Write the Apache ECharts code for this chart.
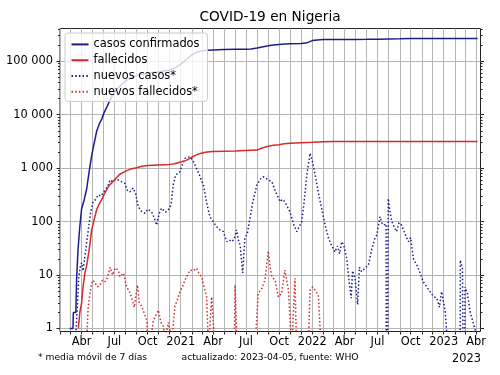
<!DOCTYPE html>
<html>
<head>
<meta charset="utf-8">
<script src="https://cdn.jsdelivr.net/npm/echarts@6/dist/echarts.min.js"></script>
<style>
  html, body { margin: 0; padding: 0; background: #fff; }
  #main { width: 500px; height: 375px; }
</style>
</head>
<body>
<div id="main"></div>
<script>
// datos (fecha, valor); 0 = sin casos
const casosConfirmados = [
  ["2020-02-28", 1], ["2020-03-08", 1], ["2020-03-09", 2], ["2020-03-16", 2], ["2020-03-18", 8],
  ["2020-03-22", 30], ["2020-03-27", 81], ["2020-04-01", 174], ["2020-04-08", 254], ["2020-04-15", 407],
  ["2020-04-22", 873], ["2020-04-29", 1728], ["2020-05-06", 2950], ["2020-05-13", 4971], ["2020-05-20", 6677],
  ["2020-05-27", 8344], ["2020-06-03", 11166], ["2020-06-10", 13873], ["2020-06-17", 17735], ["2020-06-24", 22020],
  ["2020-07-01", 25694], ["2020-07-15", 33616], ["2020-08-01", 43151], ["2020-08-15", 48116], ["2020-09-01", 54008],
  ["2020-09-15", 56256], ["2020-10-01", 58848], ["2020-10-15", 61194], ["2020-11-01", 63036], ["2020-11-15", 65305],
  ["2020-12-01", 67960], ["2020-12-15", 74132], ["2021-01-01", 87510], ["2021-01-15", 105478], ["2021-02-01", 131242],
  ["2021-02-15", 147454], ["2021-03-01", 156017], ["2021-03-15", 160463], ["2021-04-01", 162641], ["2021-05-01", 165110],
  ["2021-06-01", 166682], ["2021-07-01", 167861], ["2021-07-15", 170000], ["2021-08-01", 176000], ["2021-08-15", 185000],
  ["2021-09-01", 194000], ["2021-09-15", 200000], ["2021-10-01", 205000], ["2021-10-15", 208800], ["2021-11-01", 212000],
  ["2021-12-01", 214200], ["2021-12-15", 218000], ["2022-01-01", 243000], ["2022-01-15", 250000], ["2022-02-01", 253600],
  ["2022-03-01", 254800], ["2022-04-01", 255500], ["2022-05-01", 256000], ["2022-06-01", 256700], ["2022-07-01", 257900],
  ["2022-08-01", 261300], ["2022-09-01", 263000], ["2022-10-01", 265300], ["2022-11-01", 265900], ["2022-12-01", 266300],
  ["2023-01-01", 266450], ["2023-02-01", 266500], ["2023-03-01", 266600], ["2023-04-05", 266675]
];

const fallecidos = [
  ["2020-03-23", 1], ["2020-03-27", 2], ["2020-04-01", 3], ["2020-04-05", 6], ["2020-04-10", 11],
  ["2020-04-15", 15], ["2020-04-22", 30], ["2020-04-29", 70], ["2020-05-06", 110], ["2020-05-13", 170],
  ["2020-05-20", 215], ["2020-05-27", 260], ["2020-06-03", 330], ["2020-06-10", 400], ["2020-06-17", 480],
  ["2020-06-24", 530], ["2020-07-01", 600], ["2020-07-15", 760], ["2020-08-01", 880], ["2020-08-15", 960],
  ["2020-09-01", 1020], ["2020-09-15", 1085], ["2020-10-01", 1115], ["2020-11-01", 1150], ["2020-12-01", 1175],
  ["2020-12-15", 1205], ["2021-01-01", 1300], ["2021-01-15", 1380], ["2021-02-01", 1600], ["2021-02-15", 1790],
  ["2021-03-01", 1920], ["2021-03-15", 2010], ["2021-04-01", 2050], ["2021-05-01", 2065], ["2021-06-01", 2080],
  ["2021-07-01", 2125], ["2021-08-01", 2175], ["2021-08-15", 2380], ["2021-09-01", 2560], ["2021-09-15", 2680],
  ["2021-10-01", 2740], ["2021-10-15", 2860], ["2021-11-01", 2910], ["2021-12-01", 2980], ["2022-01-01", 3035],
  ["2022-02-01", 3125], ["2022-03-01", 3142], ["2022-06-01", 3144], ["2022-09-01", 3155], ["2023-04-05", 3155]
];

// media móvil de 7 días
const nuevosCasos = [
  ["2020-02-28", 0.14], ["2020-03-10", 0.3], ["2020-03-17", 1], ["2020-03-24", 9], ["2020-03-28", 14],
  ["2020-04-01", 17], ["2020-04-05", 12], ["2020-04-10", 13], ["2020-04-19", 65], ["2020-04-26", 150],
  ["2020-05-03", 235], ["2020-05-10", 260], ["2020-05-17", 315], ["2020-05-25", 300], ["2020-06-05", 390],
  ["2020-06-12", 450], ["2020-06-19", 600], ["2020-06-26", 560], ["2020-07-05", 620], ["2020-07-12", 600],
  ["2020-07-20", 560], ["2020-07-30", 520], ["2020-08-06", 380], ["2020-08-13", 360], ["2020-08-22", 425],
  ["2020-08-29", 330], ["2020-09-05", 190], ["2020-09-12", 160], ["2020-09-24", 142], ["2020-10-02", 170],
  ["2020-10-12", 153], ["2020-10-19", 120], ["2020-10-26", 86], ["2020-11-02", 140], ["2020-11-09", 178],
  ["2020-11-20", 150], ["2020-12-02", 178], ["2020-12-06", 230], ["2020-12-11", 480], ["2020-12-18", 745],
  ["2020-12-30", 855], ["2021-01-06", 1200], ["2021-01-13", 1520], ["2021-01-20", 1600], ["2021-01-27", 1630],
  ["2021-02-03", 1400], ["2021-02-10", 1140], ["2021-02-20", 800], ["2021-03-05", 480], ["2021-03-15", 210],
  ["2021-03-23", 123], ["2021-04-01", 100], ["2021-04-11", 80], ["2021-04-20", 70], ["2021-04-29", 65],
  ["2021-05-09", 42], ["2021-05-16", 45], ["2021-05-23", 42], ["2021-05-30", 48], ["2021-06-05", 70],
  ["2021-06-10", 45], ["2021-06-15", 36], ["2021-06-22", 11], ["2021-06-28", 49], ["2021-07-05", 60],
  ["2021-07-12", 115], ["2021-07-20", 230], ["2021-07-31", 480], ["2021-08-10", 620], ["2021-08-18", 690],
  ["2021-08-25", 650], ["2021-09-01", 600], ["2021-09-11", 560], ["2021-09-20", 380], ["2021-10-04", 235],
  ["2021-10-10", 260], ["2021-10-17", 235], ["2021-10-24", 190], ["2021-10-31", 153], ["2021-11-10", 90],
  ["2021-11-19", 65], ["2021-11-26", 80], ["2021-12-03", 100], ["2021-12-10", 250], ["2021-12-17", 745],
  ["2021-12-26", 1900], ["2022-01-02", 1300], ["2022-01-09", 745], ["2022-01-18", 350], ["2022-01-27", 178],
  ["2022-02-05", 90], ["2022-02-15", 49], ["2022-02-22", 38], ["2022-03-05", 27], ["2022-03-12", 35],
  ["2022-03-18", 25], ["2022-03-24", 42], ["2022-03-30", 35], ["2022-04-07", 20], ["2022-04-13", 8],
  ["2022-04-19", 3.7], ["2022-04-23", 12], ["2022-04-30", 8.7], ["2022-05-07", 2.8], ["2022-05-12", 14],
  ["2022-05-18", 11.6], ["2022-05-25", 13], ["2022-06-06", 15.5], ["2022-06-15", 30], ["2022-06-24", 49],
  ["2022-06-29", 56], ["2022-07-08", 123], ["2022-07-13", 95], ["2022-07-17", 86], ["2022-07-25", 90],
  ["2022-07-26", 0], ["2022-07-30", 0], ["2022-07-31", 270], ["2022-08-05", 150], ["2022-08-10", 100],
  ["2022-08-16", 80], ["2022-08-23", 65], ["2022-08-30", 95], ["2022-09-06", 86], ["2022-09-15", 60],
  ["2022-09-25", 42], ["2022-10-01", 50], ["2022-10-09", 20], ["2022-10-18", 15.5], ["2022-10-25", 12],
  ["2022-11-05", 7.5], ["2022-11-15", 6], ["2022-11-24", 4.9], ["2022-12-03", 4], ["2022-12-13", 3.7],
  ["2022-12-20", 2.5], ["2022-12-26", 4.9], ["2023-01-05", 2.1], ["2023-01-14", 0.3], ["2023-02-15", 0],
  ["2023-02-16", 19], ["2023-02-22", 13], ["2023-02-27", 0], ["2023-03-01", 6], ["2023-03-08", 4.4],
  ["2023-03-15", 2.1], ["2023-04-01", 0.8]
];

const nuevosFallecidos = [
  ["2020-03-23", 0.14], ["2020-04-14", 0.4], ["2020-04-19", 2.4], ["2020-04-25", 5], ["2020-04-29", 7],
  ["2020-05-03", 8], ["2020-05-08", 7.5], ["2020-05-15", 6], ["2020-05-22", 6.5], ["2020-05-29", 8],
  ["2020-06-05", 7.5], ["2020-06-12", 9], ["2020-06-19", 14], ["2020-06-26", 10], ["2020-07-03", 13.5],
  ["2020-07-12", 12.4], ["2020-07-16", 9.3], ["2020-07-26", 10.8], ["2020-08-04", 6], ["2020-08-11", 5],
  ["2020-08-18", 3.8], ["2020-08-25", 2.5], ["2020-09-03", 6.5], ["2020-09-08", 3], ["2020-09-15", 2.6],
  ["2020-09-29", 1.4], ["2020-10-02", 0.4], ["2020-10-12", 0.8], ["2020-10-17", 1.4], ["2020-10-22", 1.5],
  ["2020-10-31", 2.2], ["2020-11-07", 1.3], ["2020-11-14", 1.1], ["2020-11-18", 0.6], ["2020-11-28", 1.3],
  ["2020-12-07", 0.6], ["2020-12-16", 2.6], ["2020-12-23", 3.5], ["2020-12-30", 4.9], ["2021-01-06", 6],
  ["2021-01-13", 8.1], ["2021-01-20", 10], ["2021-01-27", 12.4], ["2021-02-05", 12], ["2021-02-14", 13.4],
  ["2021-02-20", 11], ["2021-02-28", 9.3], ["2021-03-07", 6], ["2021-03-14", 3.9], ["2021-03-19", 0.4],
  ["2021-03-28", 3.9], ["2021-04-06", 0.4], ["2021-05-29", 0.3], ["2021-06-01", 6.5], ["2021-06-07", 0.3],
  ["2021-07-26", 0.4], ["2021-08-04", 4.5], ["2021-08-14", 5.6], ["2021-08-23", 8.1], ["2021-09-01", 28],
  ["2021-09-06", 14], ["2021-09-11", 9.3], ["2021-09-20", 8], ["2021-09-29", 3.9], ["2021-10-08", 4.5],
  ["2021-10-17", 12.4], ["2021-10-27", 5.2], ["2021-11-05", 0.4], ["2021-11-14", 8.7], ["2021-11-19", 0.3],
  ["2021-12-20", 0.3], ["2021-12-26", 5.2], ["2022-01-02", 6], ["2022-01-09", 5.2], ["2022-01-18", 4.2],
  ["2022-01-27", 0.3], ["2023-04-01", 0]
];

const yTicks = [1, 10, 100, 1000, 10000, 100000];
const etiquetasMes = { 3: "Abr", 6: "Jul", 9: "Oct" };

const azul = "#1c1c8c";
const rojo = "#d62b2b";
const fuente = "DejaVu Sans";

// fechas -> milisegundos (UTC); en escala log los ceros se mandan muy abajo y se recortan, como en matplotlib
const prep = (arr) => arr.map(([d, v]) => [Date.parse(d), v > 0 ? v : 1e-4]);

// marcas mensuales del eje x
const xMin = Date.UTC(2020, 1, 1);
const xMax = Date.UTC(2023, 3, 13);
const meses = [];
const trimestres = [];
for (let y = 2020; y <= 2023; y++) {
  for (let m = 0; m < 12; m++) {
    const t = Date.UTC(y, m, 1);
    if (t < xMin || t > xMax) continue;
    meses.push(t);
    if (m % 3 === 0) trimestres.push(t);
  }
}

// marcas menores del eje y
const yMin = 0.879;
const yMax = 409000;
const yMinor = [];
yTicks.forEach((d) => {
  for (let k = 2; k <= 9; k++) if (k * d < yMax) yMinor.push(k * d);
});

const fmtMiles = (v) => String(Math.round(v)).replace(/\B(?=(\d{3})+(?!\d))/g, " ");
const fmtFecha = (v) => {
  const d = new Date(v);
  return d.getUTCMonth() === 0 ? String(d.getUTCFullYear()) : etiquetasMes[d.getUTCMonth()] || "";
};

const myChart = echarts.init(document.getElementById("main"), null, { renderer: "canvas" });

const option = {
  animation: false,
  textStyle: { fontFamily: fuente },
  grid: {
    left: 60, top: 28.5, width: 420.5, height: 303,
    show: true, borderColor: "#222", borderWidth: 1, backgroundColor: "transparent"
  },
  legend: {
    orient: "vertical",
    left: 65, top: 33,
    itemWidth: 17, itemHeight: 14, itemGap: 4.6,
    padding: [5.8, 8, 4, 5.5],
    backgroundColor: "rgba(255,255,255,0.8)",
    borderColor: "#cccccc", borderWidth: 1, borderRadius: 3,
    itemStyle: { opacity: 0 },
    textStyle: { fontSize: 11.4, color: "#000", fontFamily: fuente },
    data: ["casos confirmados", "fallecidos", "nuevos casos*", "nuevos fallecidos*"]
  },
  xAxis: {
    type: "value",
    min: xMin, max: xMax,
    axisLine: { show: false },
    axisTick: { show: true, length: 3, customValues: meses, lineStyle: { color: "#222" } },
    axisLabel: { customValues: trimestres, margin: 5, fontSize: 11.4, color: "#000", fontFamily: fuente, formatter: fmtFecha },
    splitLine: { show: true, lineStyle: { color: "#b5b5b5", width: 1 } }
  },
  yAxis: [
    {
      type: "log", logBase: 10, min: yMin, max: yMax, position: "left",
      axisLine: { show: false },
      axisTick: { show: true, length: 3.5, customValues: yTicks, lineStyle: { color: "#222" } },
      axisLabel: { customValues: yTicks, margin: 7, fontSize: 11.4, color: "#000", fontFamily: fuente, formatter: fmtMiles },
      splitLine: { show: true, lineStyle: { color: "#b5b5b5", width: 1 } }
    },
    {
      type: "log", logBase: 10, min: yMin, max: yMax, position: "left",
      axisLine: { show: false },
      axisTick: { show: true, length: 2, customValues: yMinor, lineStyle: { color: "#222" } },
      axisLabel: { show: false },
      splitLine: { show: false }
    },
    {
      type: "log", logBase: 10, min: yMin, max: yMax, position: "right",
      axisLine: { show: false },
      axisTick: { show: true, length: 3.5, customValues: yTicks, lineStyle: { color: "#222" } },
      axisLabel: { show: false },
      splitLine: { show: false }
    },
    {
      type: "log", logBase: 10, min: yMin, max: yMax, position: "right",
      axisLine: { show: false },
      axisTick: { show: true, length: 2, customValues: yMinor, lineStyle: { color: "#222" } },
      axisLabel: { show: false },
      splitLine: { show: false }
    }
  ],
  series: [
    {
      name: "casos confirmados", type: "line", symbol: "none", data: prep(casosConfirmados),
      lineStyle: { color: azul, width: 1.5 }, itemStyle: { color: azul }, z: 3
    },
    {
      name: "fallecidos", type: "line", symbol: "none", data: prep(fallecidos),
      lineStyle: { color: rojo, width: 1.5 }, itemStyle: { color: rojo }, z: 3
    },
    {
      name: "nuevos casos*", type: "line", symbol: "none", data: prep(nuevosCasos),
      lineStyle: { color: azul, width: 1.5, type: [1.5, 2.2] }, itemStyle: { color: azul }, z: 2
    },
    {
      name: "nuevos fallecidos*", type: "line", symbol: "none", data: prep(nuevosFallecidos),
      lineStyle: { color: rojo, width: 1.5, type: [1.5, 2.2] }, itemStyle: { color: rojo }, z: 2
    }
  ],
  graphic: [
    { type: "text", x: 270, y: 17, style: { text: "COVID-19 en Nigeria", fontSize: 13.7, fontFamily: fuente, fill: "#000", align: "center", verticalAlign: "middle" } },
    { type: "text", x: 38, y: 358, style: { text: "* media móvil de 7 días", fontSize: 9.2, fontFamily: fuente, fill: "#000", align: "left", verticalAlign: "middle" } },
    { type: "text", x: 181.5, y: 358, style: { text: "actualizado: 2023-04-05, fuente: WHO", fontSize: 9.2, fontFamily: fuente, fill: "#000", align: "left", verticalAlign: "middle" } },
    { type: "text", x: 481, y: 359, style: { text: "2023", fontSize: 11.4, fontFamily: fuente, fill: "#000", align: "right", verticalAlign: "middle" } }
  ]
};

option && myChart.setOption(option);
</script>
</body>
</html>
